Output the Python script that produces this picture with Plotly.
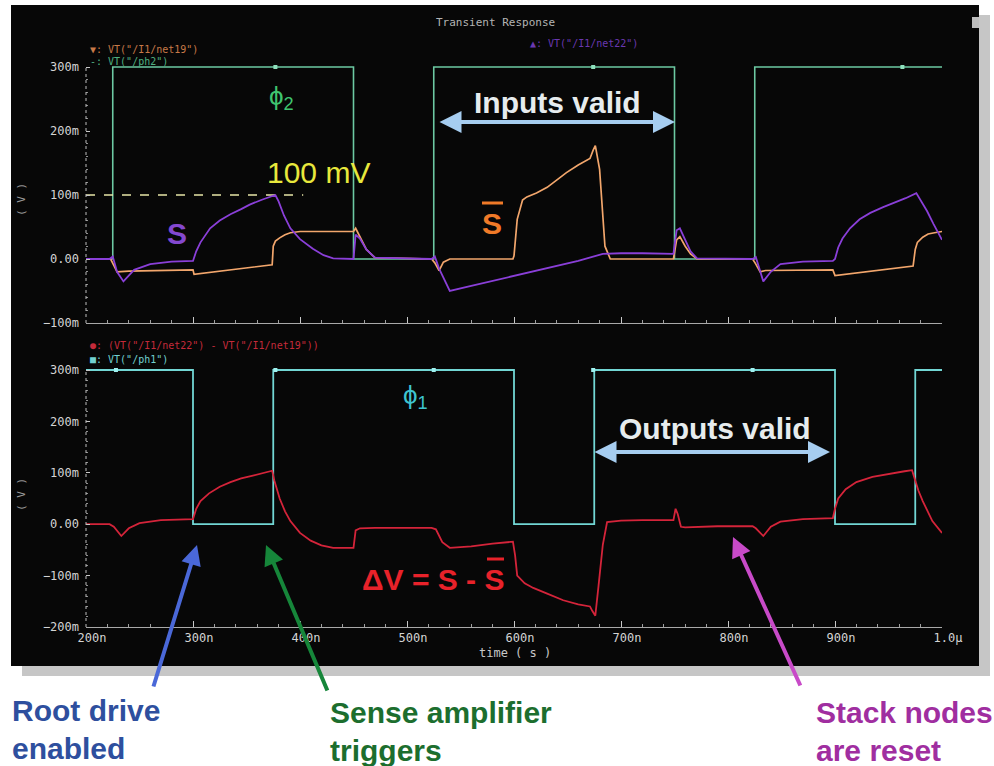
import plotly.graph_objects as go

# ---------------- data (time in ns, values in V) ----------------
ph2_t = [200, 225, 450, 525, 750, 825, 1000]
ph2_v = [0.0, 0.3, 0.0, 0.3, 0.0, 0.3, 0.3]

ph1_t = [200, 300, 375, 600, 675, 900, 975, 1000]
ph1_v = [0.3, 0.0, 0.3, 0.0, 0.3, 0.0, 0.3, 0.3]

s_t = [200, 222, 225, 229, 235, 245, 260, 280, 300, 303, 307, 316, 325, 335, 345, 353, 365, 377,
       380, 385, 391, 400, 412, 422, 431, 450, 452, 456, 462, 470, 523, 526, 530, 540, 560, 580,
       600, 620, 640, 660, 683, 700, 720, 749, 752, 755, 760, 765, 771, 823, 826, 830, 833, 840,
       849, 870, 898, 900, 903, 907, 914, 923, 933, 945, 956, 966, 976, 980, 986, 992, 1000]
s_v = [0.0, 0.0, 0.004, -0.02, -0.035, -0.017, -0.008, -0.004, -0.003, 0.012, 0.026, 0.048, 0.060,
       0.070, 0.078, 0.085, 0.093, 0.100, 0.090, 0.068, 0.048, 0.031, 0.016, 0.006, 0.001, 0.0,
       0.038, 0.032, 0.015, 0.002, 0.0, 0.004, -0.015, -0.050, -0.042, -0.034, -0.027, -0.019,
       -0.011, -0.003, 0.008, 0.009, 0.009, 0.008, 0.045, 0.048, 0.030, 0.012, 0.001, 0.0, 0.003,
       -0.020, -0.035, -0.020, -0.008, -0.004, -0.003, 0.0, 0.018, 0.032, 0.048, 0.062, 0.072,
       0.081, 0.088, 0.095, 0.103, 0.092, 0.075, 0.055, 0.030]

sb_t = [200, 223, 226, 229, 240, 270, 300, 301, 320, 340, 360, 374, 375, 377, 381, 386, 391, 400,
        430, 450, 452, 456, 462, 470, 523, 526, 530, 534, 540, 599, 600, 603, 608, 612, 621, 631,
        640, 649, 660, 671, 674, 676, 680, 685, 690, 749, 752, 755, 760, 765, 771, 823, 826, 830,
        835, 860, 898, 900, 920, 940, 962, 973, 975, 977, 982, 987, 993, 1000]
sb_v = [0.0, 0.0, -0.010, -0.020, -0.019, -0.018, -0.017, -0.024, -0.020, -0.016, -0.012, -0.009,
        0.020, 0.028, 0.033, 0.038, 0.041, 0.043, 0.043, 0.043, 0.048, 0.035, 0.015, 0.002, 0.0,
        -0.006, -0.018, -0.005, 0.0, 0.0, 0.005, 0.062, 0.092, 0.097, 0.103, 0.112, 0.124, 0.135,
        0.147, 0.157, 0.170, 0.177, 0.140, 0.020, 0.0, 0.0, 0.030, 0.035, 0.020, 0.008, 0.0, 0.0,
        -0.008, -0.020, -0.018, -0.018, -0.017, -0.026, -0.022, -0.018, -0.013, -0.011, 0.015,
        0.026, 0.034, 0.039, 0.041, 0.043]

dv_t = [200, 222, 226, 233, 240, 250, 270, 300, 303, 307, 315, 325, 335, 345, 355, 365, 374, 376,
        381, 386, 391, 400, 410, 420, 431, 450, 452, 456, 470, 500, 523, 527, 533, 540, 560, 580,
        599, 601, 603, 610, 618, 631, 646, 660, 671, 673, 676, 679, 683, 687, 700, 720, 749, 751,
        753, 756, 760, 790, 823, 826, 833, 840, 849, 870, 898, 900, 903, 910, 920, 935, 950, 965,
        972, 975, 978, 982, 991, 1000]
dv_v = [0.0, 0.0, -0.005, -0.023, -0.008, 0.002, 0.008, 0.010, 0.030, 0.045, 0.060, 0.073, 0.082,
        0.089, 0.094, 0.100, 0.104, 0.085, 0.050, 0.025, 0.006, -0.017, -0.032, -0.041, -0.046,
        -0.046, -0.012, -0.008, -0.007, -0.007, -0.007, -0.010, -0.035, -0.046, -0.043, -0.038,
        -0.034, -0.060, -0.100, -0.115, -0.124, -0.135, -0.148, -0.156, -0.160, -0.168, -0.178,
        -0.120, -0.040, 0.004, 0.007, 0.008, 0.008, 0.030, 0.020, -0.005, -0.006, -0.004, -0.004,
        -0.008, -0.023, -0.005, 0.005, 0.010, 0.012, 0.030, 0.050, 0.068, 0.082, 0.092, 0.098,
        0.103, 0.105, 0.085, 0.065, 0.045, 0.006, -0.017]

ref_t = [200, 403]
ref_v = [0.1, 0.1]

ph2_mk_t = [377, 674, 963]
ph2_mk_v = [0.3, 0.3, 0.3]
ph1_mk_t = [228, 377, 525, 674, 823]
ph1_mk_v = [0.3, 0.3, 0.3, 0.3, 0.3]

x_tickvals = [200, 300, 400, 500, 600, 700, 800, 900, 1000]
x_ticktext = ["200n", "300n", "400n", "500n", "600n", "700n", "800n", "900n", "1.0µ"]
y1_tickvals = [-0.1, 0.0, 0.1, 0.2, 0.3]
y1_ticktext = ["−100m", "0.00", "100m", "200m", "300m"]
y2_tickvals = [-0.2, -0.1, 0.0, 0.1, 0.2, 0.3]
y2_ticktext = ["−200m", "−100m", "0.00", "100m", "200m", "300m"]

# ---------------- layout helpers ----------------
W, H = 994, 766


def px(x):
    return x / W


def py(y):
    return 1 - y / H


MONO = "DejaVu Sans Mono"
SANS = "Liberation Sans"

fig = go.Figure()

# upper panel traces
fig.add_trace(go.Scatter(x=ph2_t, y=ph2_v, mode="lines", line=dict(color="#6cc9a2", width=1.6, shape="hv"),
                         xaxis="x", yaxis="y"))
fig.add_trace(go.Scatter(x=ph2_mk_t, y=ph2_mk_v, mode="markers", marker=dict(color="#8fe0bd", size=4, symbol="square"),
                         xaxis="x", yaxis="y"))
fig.add_trace(go.Scatter(x=ref_t, y=ref_v, mode="lines", line=dict(color="#e8e6a8", width=1.3, dash="dash"),
                         xaxis="x", yaxis="y"))
fig.add_trace(go.Scatter(x=sb_t, y=sb_v, mode="lines", line=dict(color="#f2a66c", width=1.7),
                         xaxis="x", yaxis="y"))
fig.add_trace(go.Scatter(x=s_t, y=s_v, mode="lines", line=dict(color="#8a3fd8", width=1.8),
                         xaxis="x", yaxis="y"))

# lower panel traces
fig.add_trace(go.Scatter(x=ph1_t, y=ph1_v, mode="lines", line=dict(color="#72d6d4", width=1.8, shape="hv"),
                         xaxis="x2", yaxis="y2"))
fig.add_trace(go.Scatter(x=ph1_mk_t, y=ph1_mk_v, mode="markers", marker=dict(color="#9ff0ee", size=4, symbol="square"),
                         xaxis="x2", yaxis="y2"))
fig.add_trace(go.Scatter(x=dv_t, y=dv_v, mode="lines", line=dict(color="#d4243a", width=1.8),
                         xaxis="x2", yaxis="y2"))

xdom = [px(86), px(942)]
y1_range = [-0.1, 0.31]
y2_range = [-0.2, 0.31]
y1_dom = [py(323), py(323 - (y1_range[1] - y1_range[0]) * 640)]
y2_dom = [py(627), py(627 - (y2_range[1] - y2_range[0]) * 514)]

tickfont = dict(family=MONO, size=12, color="#d4d4d4")
common_x = dict(domain=xdom, range=[200, 1000], showgrid=False, zeroline=False, automargin=False,
                tickvals=x_tickvals, ticks="inside", ticklen=6, tickcolor="#c8c8c8", tickwidth=1,
                minor=dict(dtick=20, tick0=200, ticks="inside", ticklen=3, tickcolor="#a0a0a0"),
                showline=True, linecolor="#a8a8a8", linewidth=1)
common_y = dict(showgrid=False, zeroline=False, ticks="inside", ticklen=4, tickcolor="#c8c8c8",
                automargin=False,
                minor=dict(dtick=0.02, ticks="inside", ticklen=2, tickcolor="#909090"),
                showline=False, tickfont=tickfont, ticklabelstandoff=6)

fig.update_layout(
    width=W, height=H, margin=dict(l=0, r=0, t=0, b=0, pad=0), autosize=False,
    paper_bgcolor="white", plot_bgcolor="rgba(0,0,0,0)", showlegend=False,
    xaxis=dict(anchor="y", showticklabels=False, **common_x),
    xaxis2=dict(anchor="y2", showticklabels=True, ticktext=x_ticktext, tickfont=tickfont,
                ticklabelshift=6, **common_x),
    yaxis=dict(anchor="x", domain=y1_dom, range=y1_range, tickvals=y1_tickvals, ticktext=y1_ticktext, **common_y),
    yaxis2=dict(anchor="x2", domain=y2_dom, range=y2_range, tickvals=y2_tickvals, ticktext=y2_ticktext, **common_y),
)

# ---------------- shapes (background, axes, overbars) ----------------
shapes = [
    dict(type="rect", xref="paper", yref="paper", x0=px(22), x1=px(990), y0=py(676), y1=py(15),
         fillcolor="#c6c6c6", line=dict(width=0), layer="below"),
    dict(type="rect", xref="paper", yref="paper", x0=px(11), x1=px(979), y0=py(666), y1=py(5),
         fillcolor="#070707", line=dict(width=0), layer="below"),
    dict(type="rect", xref="paper", yref="paper", x0=px(972), x1=px(979), y0=py(28), y1=py(17),
         fillcolor="#bdbdbd", line=dict(width=0)),
    dict(type="line", xref="paper", yref="paper", x0=px(86), x1=px(86), y0=py(323), y1=py(67),
         line=dict(color="#bdbdbd", width=1, dash="dot")),
    dict(type="line", xref="paper", yref="paper", x0=px(86), x1=px(86), y0=py(627), y1=py(370),
         line=dict(color="#bdbdbd", width=1, dash="dot")),
    # overbar of S-bar (orange)
    dict(type="line", xref="paper", yref="paper", x0=px(482), x1=px(503), y0=py(203), y1=py(203),
         line=dict(color="#f07a28", width=3)),
    # overbar in the delta-V label
    dict(type="line", xref="paper", yref="paper", x0=px(487), x1=px(504), y0=py(559), y1=py(559),
         line=dict(color="#e8222a", width=3)),
]
fig.update_layout(shapes=shapes)

# ---------------- annotations ----------------
ann = []


def text(x, y, s, size, color, family=SANS, xanchor="center", yanchor="middle", angle=0):
    ann.append(dict(x=px(x), y=py(y), xref="paper", yref="paper", text=s, showarrow=False,
                    font=dict(family=family, size=size, color=color), xanchor=xanchor, yanchor=yanchor,
                    textangle=angle))


def arrow(tip, tail, color, width, both=False, size=1.0):
    ann.append(dict(x=px(tip[0]), y=py(tip[1]), xref="paper", yref="paper", text="", showarrow=True,
                    ax=tail[0] - tip[0], ay=tail[1] - tip[1], arrowcolor=color, arrowwidth=width,
                    arrowhead=2, arrowsize=size, startarrowhead=2, startarrowsize=size,
                    arrowside="end+start" if both else "end"))


# title and legends (simulator style)
text(495, 22, "Transient Response", 11, "#b4b4b4", family=MONO)
text(88, 50, '▼: VT("/I1/net19")', 10, "#c87a48", family=MONO, xanchor="left")
text(88, 61, '-: VT("/ph2")', 10, "#4fae80", family=MONO, xanchor="left")
text(528, 43, '▲: VT("/I1/net22")', 10, "#6a38b0", family=MONO, xanchor="left")
text(88, 346, '●: (VT("/I1/net22") - VT("/I1/net19"))', 10, "#c42a3a", family=MONO, xanchor="left")
text(88, 359, '■: VT("/ph1")', 10, "#72d0d0", family=MONO, xanchor="left")
text(22, 200, "( V )", 11, "#9a9a9a", family=MONO, angle=-90)
text(22, 495, "( V )", 11, "#9a9a9a", family=MONO, angle=-90)
text(515, 653, "time ( s )", 12, "#c8c8c8", family=MONO)

# in-plot labels
text(281, 97, "ϕ<sub>2</sub>", 26, "#3fc46f")
text(415, 396, "ϕ<sub>1</sub>", 26, "#3ec4d0")
text(557, 102, "<b>Inputs valid</b>", 30, "#e6ecee")
text(715, 428, "<b>Outputs valid</b>", 30, "#e6ecee")
text(318, 172, "100 mV", 30, "#e8e83c")
text(177, 233, "<b>S</b>", 30, "#8448d0")
text(492, 223, "<b>S</b>", 30, "#f07a28")
text(433, 579, "<b>ΔV = S - S</b>", 30, "#e8222a")

arrow((675, 122), (438, 122), "#a6cdf0", 4, both=True, size=1.1)
arrow((830, 452), (593, 452), "#a6cdf0", 4, both=True, size=1.1)

# bottom callouts
text(10, 710, "<b>Root drive</b>", 30, "#2e4f9e", xanchor="left")
text(10, 748, "<b>enabled</b>", 30, "#2e4f9e", xanchor="left")
text(328, 712, "<b>Sense amplifier</b>", 30, "#1c6e2e", xanchor="left")
text(328, 750, "<b>triggers</b>", 30, "#1c6e2e", xanchor="left")
text(814, 712, "<b>Stack nodes</b>", 30, "#a02ea0", xanchor="left")
text(814, 750, "<b>are reset</b>", 30, "#a02ea0", xanchor="left")

arrow((197, 545), (153, 688), "#4a68d8", 4, size=1.0)
arrow((266, 545), (328, 692), "#16863a", 4, size=1.0)
arrow((733, 537), (801, 687), "#c84ac8", 4, size=1.0)

fig.update_layout(annotations=ann)

fig.write_html("out.html")
